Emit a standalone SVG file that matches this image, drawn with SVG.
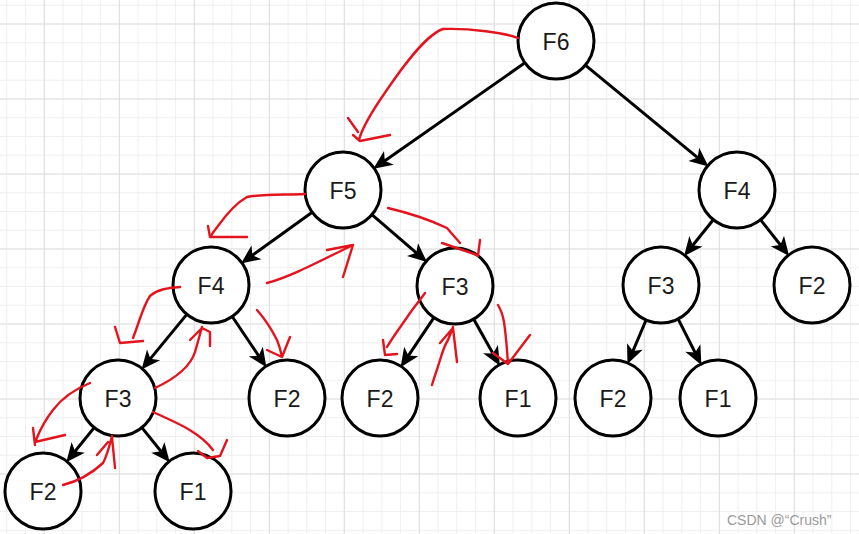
<svg xmlns="http://www.w3.org/2000/svg" width="859" height="534" viewBox="0 0 859 534">
<defs>
<pattern id="gminor" width="18.75" height="18.75" patternUnits="userSpaceOnUse" x="6.3" y="4.75">
<path d="M0.5 0V18.75M0 0.5H18.75" stroke="#efefef" stroke-width="1" fill="none"/>
</pattern>
<pattern id="gmajor" width="75" height="75" patternUnits="userSpaceOnUse" x="43.8" y="23.5">
<path d="M0.5 0V75M0 0.5H75" stroke="#dedede" stroke-width="1" fill="none"/>
</pattern>
<marker id="arr" markerUnits="userSpaceOnUse" markerWidth="19" markerHeight="17" refX="14" refY="8.5" orient="auto" overflow="visible">
<path d="M0,0 L19,8.5 L0,17 L5,8.5 Z" fill="#000"/>
</marker>
</defs>
<style>
.edge{stroke:#000;stroke-width:3;fill:none;marker-end:url(#arr)}
.node circle{fill:#fff;stroke:#000;stroke-width:3}
.node text{font-family:"Liberation Sans",Arial,sans-serif;font-size:23px;fill:#1a1a1a;text-anchor:middle;dominant-baseline:central}
.red{stroke:#e3141e;stroke-width:2.4;fill:none;stroke-linecap:round;stroke-linejoin:round}
.wm{font-family:"Liberation Sans",Arial,sans-serif;font-size:14px;fill:#9a9a9a}
</style>
<rect width="859" height="534" fill="#fff"/>
<rect width="859" height="534" fill="url(#gminor)"/>
<rect width="859" height="534" fill="url(#gmajor)"/>

<g id="connectors">
<path class="edge" d="M524.9,62.8 L377.4,165.9"/>
<path class="edge" d="M585.3,65.2 L704.6,163.3"/>
<path class="edge" d="M312.2,212.2 L245.1,260.5"/>
<path class="edge" d="M371.9,214.7 L423.1,258.7"/>
<path class="edge" d="M186.8,314.4 L144.7,365.6"/>
<path class="edge" d="M232.2,316.5 L263.6,363.2"/>
<path class="edge" d="M433.9,317.6 L403.4,363.1"/>
<path class="edge" d="M473.6,319.1 L497.4,361.4"/>
<path class="edge" d="M713.3,219.7 L687.2,252.2"/>
<path class="edge" d="M760.6,219.8 L786.0,252.0"/>
<path class="edge" d="M646.1,320.0 L629.4,359.4"/>
<path class="edge" d="M678.1,318.9 L699.1,360.5"/>
<path class="edge" d="M94.2,427.6 L69.4,458.3"/>
<path class="edge" d="M141.9,427.6 L166.6,458.3"/>
</g>

<g id="n_f6" class="node"><circle cx="556" cy="41" r="38"/><text x="556" y="42">F6</text></g>
<g id="n_f5" class="node"><circle cx="343" cy="190" r="38"/><text x="343" y="191">F5</text></g>
<g id="n_f4r" class="node"><circle cx="737" cy="190" r="38"/><text x="737" y="191">F4</text></g>
<g id="n_f4" class="node"><circle cx="211" cy="285" r="38"/><text x="211" y="286">F4</text></g>
<g id="n_f3m" class="node"><circle cx="455" cy="286" r="38"/><text x="455" y="287">F3</text></g>
<g id="n_f3r" class="node"><circle cx="661" cy="285" r="38"/><text x="661" y="286">F3</text></g>
<g id="n_f2r" class="node"><circle cx="812" cy="285" r="38"/><text x="812" y="286">F2</text></g>
<g id="n_f3l" class="node"><circle cx="118" cy="398" r="38"/><text x="118" y="399">F3</text></g>
<g id="n_f2a" class="node"><circle cx="287" cy="398" r="38"/><text x="287" y="399">F2</text></g>
<g id="n_f2b" class="node"><circle cx="380" cy="398" r="38"/><text x="380" y="399">F2</text></g>
<g id="n_f1b" class="node"><circle cx="518" cy="398" r="38"/><text x="518" y="399">F1</text></g>
<g id="n_f2c" class="node"><circle cx="613" cy="398" r="38"/><text x="613" y="399">F2</text></g>
<g id="n_f1c" class="node"><circle cx="718" cy="398" r="38"/><text x="718" y="399">F1</text></g>
<g id="n_f2d" class="node"><circle cx="43" cy="491" r="38"/><text x="43" y="492">F2</text></g>
<g id="n_f1d" class="node"><circle cx="193" cy="491" r="38"/><text x="193" y="492">F1</text></g>

<g id="annotations">
<path class="red" d="M518,38 C505,33 470,28 443,29 C425,35 400,70 380,100 C370,115 362,128 359,140"/>
<path class="red" d="M348,118 L358,132 M353,135 L360,141 C370,139 380,137 390,135"/>
<path class="red" d="M305,194 C285,195 262,194 247,197 C238,202 228,212 218,226 C214,231 212,234 211,236"/>
<path class="red" d="M208,226 L210,237 L247,237"/>
<path class="red" d="M267,283 C290,277 318,262 353,245 L343,277 M327,250 L353,245"/>
<path class="red" d="M180,287 C168,288 158,289 150,296 C143,306 140,320 133,338"/>
<path class="red" d="M115,327 L120,343 L143,341"/>
<path class="red" d="M155,388 C172,380 190,368 195,352 C198,342 200,334 202,327 M190,340 L202,328 L210,332 L210,346"/>
<path class="red" d="M257,310 C264,318 272,330 277,340 C280,347 281,352 282,357 M267,350 L282,357 L290,337"/>
<path class="red" d="M90,383 C75,389 62,398 53,410 C45,420 40,430 36,440 M33,428 L35,445 M35,442 L65,435"/>
<path class="red" d="M63,485 C75,482 90,475 103,463 C107,456 109,448 112,436 M97,455 L108,442 M112,437 L115,468"/>
<path class="red" d="M153,412 C175,422 200,432 213,450 M198,451 L207,458 L220,456 L227,440"/>
<path class="red" d="M388,208 C405,212 430,220 447,228 C452,234 456,238 460,243 M442,243 L477,255 M480,240 L478,256"/>
<path class="red" d="M425,293 C420,300 415,306 410,313 C402,325 394,335 387,347 M383,340 L385,355 L397,354"/>
<path class="red" d="M432,385 C435,375 438,367 440,360 C443,350 446,343 448,340 C450,335 452,330 453,327 M440,343 L453,328 L457,362"/>
<path class="red" d="M498,305 C501,310 503,316 504,322 C506,335 507,348 508,364 M493,353 L508,364 L530,335"/>
</g>

<text class="wm" x="727" y="525">CSDN @“Crush”</text>
</svg>
